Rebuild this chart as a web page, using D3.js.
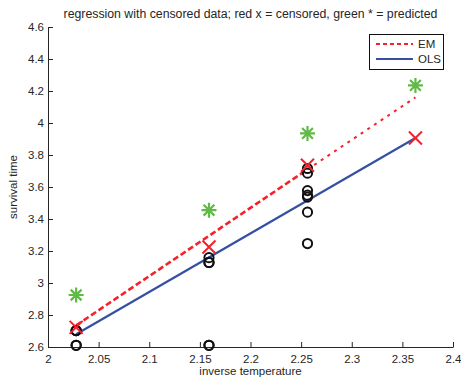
<!DOCTYPE html>
<html><head><meta charset="utf-8">
<script src="https://cdn.jsdelivr.net/npm/d3@7"></script>
<style>
body{margin:0;background:#fff;}
svg{display:block;font-family:"Liberation Sans",Arial,Helvetica,sans-serif;}
</style></head>
<body>
<svg id="c" width="461" height="377"></svg>
<script>
// inverse temperature levels
const xLevels = [2.0278, 2.1590, 2.2563, 2.3629];
// observed (uncensored) survival times, log10 hours
const obsX = [2.0278, 2.0278, 2.0278, 2.0278, 2.0278,
              2.1590, 2.1590, 2.1590, 2.1590, 2.1590,
              2.2563, 2.2563, 2.2563, 2.2563, 2.2563, 2.2563, 2.2563];
const obsY = [2.6107, 2.6107, 2.7024, 2.7024, 2.7024,
              2.6107, 2.6107, 3.1284, 3.1284, 3.1584,
              3.2465, 3.4428, 3.5370, 3.5490, 3.5775, 3.6866, 3.7157];
// censored values (red x)
const censY = [2.7226, 3.2253, 3.7362, 3.9066];
// predicted values for censored (green *)
const predY = [2.925, 3.455, 3.935, 4.235];
// fitted lines (endpoints)
const emX = [2.0278, 2.2563, 2.3629];
const emY = [2.735, 3.710, 4.160];
const olsX = [2.0278, 2.3629];
const olsY = [2.680, 3.906];
const xTicks = [2, 2.05, 2.1, 2.15, 2.2, 2.25, 2.3, 2.35, 2.4];
const yTicks = [2.6, 2.8, 3, 3.2, 3.4, 3.6, 3.8, 4, 4.2, 4.4, 4.6];

const svg = d3.select("#c");
const L = 48, R = 453, T = 27, B = 347;
const x = d3.scaleLinear().domain([2, 2.4]).range([L, R]);
const y = d3.scaleLinear().domain([2.6, 4.6]).range([B, T]);
const txt = "#262626";

// axes
const xa = svg.append("g").attr("transform", `translate(0,${B})`)
  .call(d3.axisBottom(x).tickValues(xTicks).tickFormat(d3.format("")).tickSizeInner(-5).tickSizeOuter(0).tickPadding(5));
const ya = svg.append("g").attr("transform", `translate(${L},0)`)
  .call(d3.axisLeft(y).tickValues(yTicks).tickFormat(d3.format("")).tickSizeInner(-5).tickSizeOuter(0).tickPadding(4));
[xa, ya].forEach(a => {
  a.select(".domain").attr("stroke", txt).attr("stroke-width", 1);
  a.selectAll(".tick line").attr("stroke", txt);
  a.selectAll(".tick text").attr("fill", txt).style("font-size", "11.5px");
});
xa.selectAll(".tick text").attr("dy", "0.95em");

// titles
svg.append("text").attr("x", (L + R) / 2).attr("y", 18).attr("text-anchor", "middle")
  .attr("fill", txt).style("font-size", "12.3px")
  .text("regression with censored data; red x = censored, green * = predicted");
svg.append("text").attr("x", (L + R) / 2).attr("y", 375).attr("text-anchor", "middle")
  .attr("fill", txt).style("font-size", "11.5px").text("inverse temperature");
svg.append("text").attr("transform", `translate(17,${(T + B) / 2}) rotate(-90)`).attr("text-anchor", "middle")
  .attr("fill", txt).style("font-size", "11.5px").text("survival time");

const red = "#f5202a", blue = "#3550a3", green = "#5fbb45";

// OLS line
svg.append("line").attr("x1", x(olsX[0])).attr("y1", y(olsY[0])).attr("x2", x(olsX[1])).attr("y2", y(olsY[1]))
  .attr("stroke", blue).attr("stroke-width", 2.2);
// EM line: heavier dashes on the first part, finer dots on the last part
svg.append("line").attr("x1", x(emX[0])).attr("y1", y(emY[0])).attr("x2", x(emX[1])).attr("y2", y(emY[1]))
  .attr("stroke", red).attr("stroke-width", 2.6).attr("stroke-dasharray", "6,3");
svg.append("line").attr("x1", x(emX[1])).attr("y1", y(emY[1])).attr("x2", x(emX[2])).attr("y2", y(emY[2]))
  .attr("stroke", red).attr("stroke-width", 2).attr("stroke-dasharray", "3,5");

// observed circles
svg.append("g").selectAll("circle").data(obsX.map((d, i) => [d, obsY[i]])).join("circle")
  .attr("cx", d => x(d[0])).attr("cy", d => y(d[1])).attr("r", 4.6)
  .attr("fill", "none").attr("stroke", "#111").attr("stroke-width", 2);

// censored red x
const xs = 6.5;
svg.append("g").selectAll("path").data(xLevels.map((d, i) => [d, censY[i]])).join("path")
  .attr("d", d => { const cx = x(d[0]), cy = y(d[1]);
    return `M${cx - xs},${cy - xs}L${cx + xs},${cy + xs}M${cx - xs},${cy + xs}L${cx + xs},${cy - xs}`; })
  .attr("stroke", red).attr("stroke-width", 2).attr("fill", "none");

// predicted green *
const ss = 7.5, sd = ss * 0.72;
svg.append("g").selectAll("path").data(xLevels.map((d, i) => [d, predY[i]])).join("path")
  .attr("d", d => { const cx = x(d[0]), cy = y(d[1]);
    return `M${cx - ss},${cy}L${cx + ss},${cy}M${cx},${cy - ss}L${cx},${cy + ss}` +
      `M${cx - sd},${cy - sd}L${cx + sd},${cy + sd}M${cx - sd},${cy + sd}L${cx + sd},${cy - sd}`; })
  .attr("stroke", green).attr("stroke-width", 2.2).attr("fill", "none");

// legend
const lg = svg.append("g");
lg.append("rect").attr("x", 369.5).attr("y", 34.5).attr("width", 74).attr("height", 35)
  .attr("fill", "#fff").attr("stroke", "#111").attr("stroke-width", 1);
lg.append("line").attr("x1", 376).attr("x2", 413).attr("y1", 44).attr("y2", 44)
  .attr("stroke", red).attr("stroke-width", 2).attr("stroke-dasharray", "4,3");
lg.append("line").attr("x1", 376).attr("x2", 413).attr("y1", 59).attr("y2", 59)
  .attr("stroke", blue).attr("stroke-width", 2);
lg.append("text").attr("x", 418).attr("y", 48).attr("fill", txt).style("font-size", "11.5px").text("EM");
lg.append("text").attr("x", 418).attr("y", 63).attr("fill", txt).style("font-size", "11.5px").text("OLS");
</script>
</body></html>
